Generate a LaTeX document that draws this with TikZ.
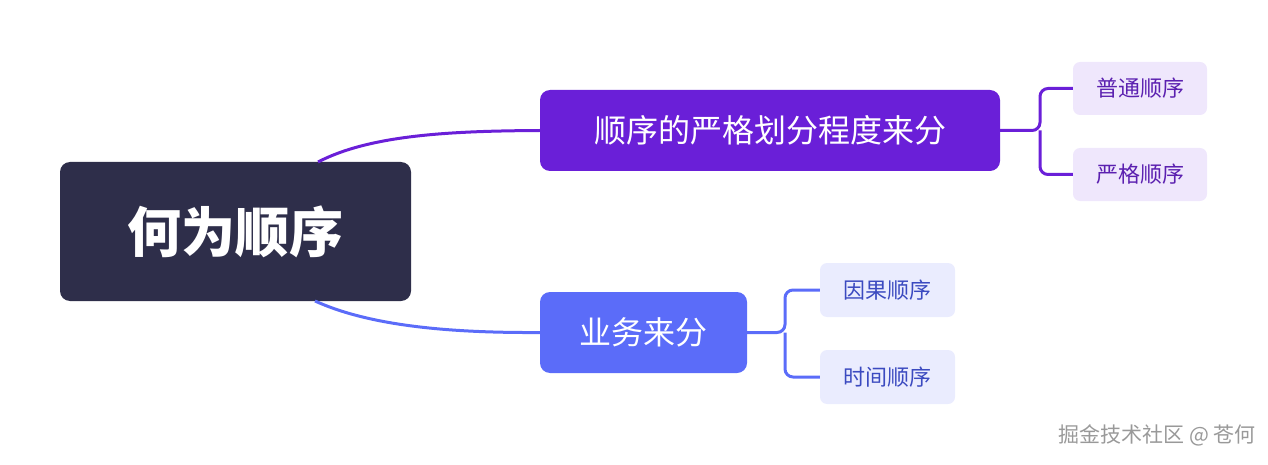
\documentclass[tikz,border=0pt]{standalone}
\usepackage{fontspec}
\setmainfont{Noto Sans CJK SC}
\begin{document}
\begin{tikzpicture}[x=1pt,y=-1pt,
  box/.style={rounded corners=10pt,inner sep=0pt,text=white},
  leafA/.style={rounded corners=7pt,fill=leafpA,text=purpT,minimum width=134pt,minimum height=53pt,font=\fontsize{22}{24}\selectfont},
  leafB/.style={rounded corners=7pt,fill=leafpB,text=blueT,minimum width=135pt,minimum height=54pt,font=\fontsize{22}{24}\selectfont},
  linkA/.style={draw=purp,line width=3pt,rounded corners=8pt},
  linkB/.style={draw=blu,line width=3pt,rounded corners=8pt}]
\definecolor{navy}{HTML}{2E2E4A}
\definecolor{purp}{HTML}{6A1FD8}
\definecolor{blu}{HTML}{5B6CF9}
\definecolor{leafpA}{HTML}{EFE7FC}
\definecolor{leafpB}{HTML}{EAECFE}
\definecolor{purpT}{HTML}{5B20B0}
\definecolor{blueT}{HTML}{3B4AC0}
\useasboundingbox (0,0) rectangle (1268,465);
\node[box,fill=navy,minimum width=351pt,minimum height=139pt,font=\fontsize{54}{60}\selectfont\bfseries] (root) at (235.5,231.5) {何为顺序};
\node[box,fill=purp,minimum width=460pt,minimum height=81pt,font=\fontsize{32}{36}\selectfont] (a) at (770,130.5) {顺序的严格划分程度来分};
\node[box,fill=blu,minimum width=207pt,minimum height=81pt,font=\fontsize{32}{36}\selectfont] (b) at (643.5,332.5) {业务来分};
\node[leafA] (a1) at (1140,88.5) {普通顺序};
\node[leafA] (a2) at (1140,174.5) {严格顺序};
\node[leafB] (b1) at (887.5,290) {因果顺序};
\node[leafB] (b2) at (887.5,377) {时间顺序};
\coordinate (r1) at (318,162);
\coordinate (r2) at (315,301);
\draw[purp,line width=3pt] (r1) .. controls (370,135) and (450,131) .. (a.west);
\draw[blu,line width=3pt] (r2) .. controls (370,326) and (450,333) .. (b.west);
\draw[linkA] (a.east) -- (1040,130.5) |- (a1.west);
\draw[linkA] (1040,130.5) |- (a2.west);
\draw[linkB] (b.east) -- (785,332.5) |- (b1.west);
\draw[linkB] (785,332.5) |- (b2.west);
\node[anchor=east,text=gray!80,font=\fontsize{21}{24}\selectfont,inner sep=0pt] (wm) at (1256,435) {掘金技术社区 @ 苍何};
\end{tikzpicture}
\end{document}
